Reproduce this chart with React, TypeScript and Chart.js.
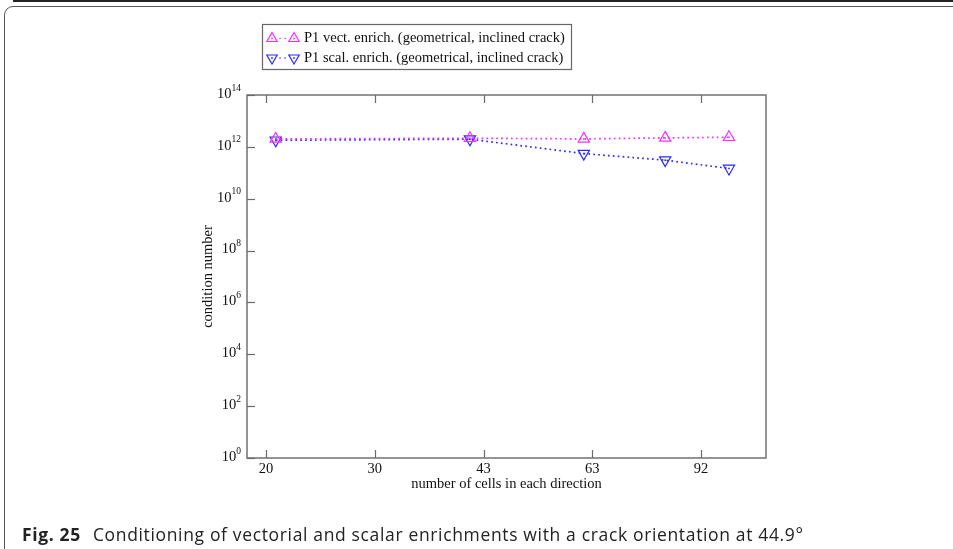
import React, { useEffect, useRef } from 'react';
import { Chart, registerables } from 'chart.js';

Chart.register(...registerables);

const cells = [20.7, 41, 61.2, 81.5, 102];
const vectEnrich = [2.03e12, 2.15e12, 2.03e12, 2.22e12, 2.35e12];
const scalEnrich = [1.8e12, 1.97e12, 5.5e11, 3.07e11, 1.47e11];
const xTickValues = [20, 29.33, 43.01, 63.07, 92.48];
const xTickLabels = ['20', '30', '43', '63', '92'];
const yTickExponents = [0, 2, 4, 6, 8, 10, 12, 14];
const seriesLabels = [
  'P1 vect. enrich. (geometrical, inclined crack)',
  'P1 scal. enrich. (geometrical, inclined crack)',
];
const seriesColors = ['#ff2cff', '#2b2bff'];
const xTitle = 'number of cells in each direction';
const yTitle = 'condition number';
const captionBold = 'Fig. 25';
const captionText = 'Conditioning of vectorial and scalar enrichments with a crack orientation at 44.9°';

const SERIF = '"Liberation Serif", "Times New Roman", serif';
const FS = 14.5;

function tri(ctx: CanvasRenderingContext2D, x: number, y: number, r: number, down: boolean) {
  const s = down ? -1 : 1;
  ctx.beginPath();
  ctx.moveTo(x, y - s * r);
  ctx.lineTo(x + r * Math.sin((2 * Math.PI) / 3), y - s * r * Math.cos((2 * Math.PI) / 3));
  ctx.lineTo(x - r * Math.sin((2 * Math.PI) / 3), y - s * r * Math.cos((2 * Math.PI) / 3));
  ctx.closePath();
  ctx.stroke();
}

const decorPlugin = {
  id: 'decor',
  afterDraw(chart: any) {
    const ctx: CanvasRenderingContext2D = chart.ctx;
    const { left, right, top, bottom } = chart.chartArea;
    const xs = chart.scales.x;
    const ys = chart.scales.y;
    ctx.save();
    // frame
    ctx.strokeStyle = '#7a7a7a';
    ctx.lineWidth = 1.6;
    ctx.strokeRect(left, top, right - left, bottom - top);
    // x ticks (bottom and top, inward)
    ctx.lineWidth = 1.2;
    ctx.strokeStyle = '#6a6a6a';
    xTickValues.forEach((v) => {
      const px = Math.round(xs.getPixelForValue(v)) + 0.5;
      ctx.beginPath();
      ctx.moveTo(px, bottom);
      ctx.lineTo(px, bottom - 8);
      ctx.moveTo(px, top);
      ctx.lineTo(px, top + 8);
      ctx.stroke();
    });
    // y ticks (left, inward)
    yTickExponents.forEach((e) => {
      const py = Math.round(ys.getPixelForValue(Math.pow(10, e))) + 0.5;
      ctx.beginPath();
      ctx.moveTo(left, py);
      ctx.lineTo(left + 8, py);
      ctx.stroke();
    });
    // tick labels
    ctx.fillStyle = '#111';
    ctx.font = `${FS}px ${SERIF}`;
    ctx.textAlign = 'center';
    ctx.textBaseline = 'middle';
    xTickValues.forEach((v, i) => {
      ctx.fillText(xTickLabels[i], xs.getPixelForValue(v), bottom + 11);
    });
    yTickExponents.forEach((e) => {
      const py = ys.getPixelForValue(Math.pow(10, e));
      ctx.font = `9.5px ${SERIF}`;
      const supW = ctx.measureText(String(e)).width;
      ctx.font = `${FS}px ${SERIF}`;
      const baseW = ctx.measureText('10').width;
      const xEnd = left - 6;
      ctx.textAlign = 'left';
      ctx.textBaseline = 'middle';
      ctx.fillText('10', xEnd - supW - baseW, py - 1);
      ctx.font = `9.5px ${SERIF}`;
      ctx.fillText(String(e), xEnd - supW, py - 7);
    });
    // axis titles
    ctx.font = `${FS}px ${SERIF}`;
    ctx.textAlign = 'center';
    ctx.textBaseline = 'middle';
    ctx.fillText(xTitle, (left + right) / 2, bottom + 26);
    ctx.save();
    ctx.translate(left - 39, (top + bottom) / 2);
    ctx.rotate(-Math.PI / 2);
    ctx.fillText(yTitle, 0, 0);
    ctx.restore();
    // center dots of markers
    chart.data.datasets.forEach((ds: any, i: number) => {
      const meta = chart.getDatasetMeta(i);
      ctx.fillStyle = seriesColors[i];
      meta.data.forEach((pt: any) => {
        ctx.beginPath();
        ctx.arc(pt.x, pt.y, 0.9, 0, Math.PI * 2);
        ctx.fill();
      });
    });
    // legend
    const lx = 262.5, ly = 24.5, lw = 309, lh = 45;
    ctx.fillStyle = '#fff';
    ctx.fillRect(lx, ly, lw, lh);
    ctx.strokeStyle = '#666';
    ctx.lineWidth = 1.2;
    ctx.strokeRect(lx, ly, lw, lh);
    seriesLabels.forEach((label, i) => {
      const cy = 38.5 + i * 19.5;
      const col = seriesColors[i];
      ctx.strokeStyle = col;
      ctx.fillStyle = col;
      ctx.lineWidth = 1.2;
      tri(ctx, 272, cy, 6, i === 1);
      tri(ctx, 294, cy, 6, i === 1);
      ctx.beginPath();
      ctx.arc(272, cy, 0.9, 0, Math.PI * 2);
      ctx.arc(294, cy, 0.9, 0, Math.PI * 2);
      ctx.fill();
      [280, 285].forEach((dx) => {
        ctx.beginPath();
        ctx.arc(dx, cy, 0.8, 0, Math.PI * 2);
        ctx.fill();
      });
      ctx.fillStyle = '#111';
      ctx.font = `${FS}px ${SERIF}`;
      ctx.textAlign = 'left';
      ctx.textBaseline = 'middle';
      ctx.fillText(label, 304, cy);
    });
    ctx.restore();
  },
};

export default function App() {
  const ref = useRef<HTMLCanvasElement | null>(null);
  useEffect(() => {
    if (!ref.current) return;
    const chart = new Chart(ref.current, {
      type: 'line',
      data: {
        datasets: [
          {
            label: seriesLabels[0],
            data: cells.map((c, i) => ({ x: c, y: vectEnrich[i] })),
            borderColor: seriesColors[0],
            backgroundColor: 'rgba(0,0,0,0)',
            borderWidth: 1.7,
            borderDash: [1.7, 3.2],
            pointStyle: 'triangle',
            pointRadius: 6.5,
            pointBorderWidth: 1.2,
            pointBorderColor: seriesColors[0],
            pointBackgroundColor: 'rgba(0,0,0,0)',
            tension: 0,
          },
          {
            label: seriesLabels[1],
            data: cells.map((c, i) => ({ x: c, y: scalEnrich[i] })),
            borderColor: seriesColors[1],
            backgroundColor: 'rgba(0,0,0,0)',
            borderWidth: 1.7,
            borderDash: [1.7, 3.2],
            pointStyle: 'triangle',
            pointRotation: 180,
            pointRadius: 6.5,
            pointBorderWidth: 1.2,
            pointBorderColor: seriesColors[1],
            pointBackgroundColor: 'rgba(0,0,0,0)',
            tension: 0,
          },
        ],
      },
      options: {
        responsive: false,
        animation: false,
        layout: { padding: { left: 247, top: 95, right: 187, bottom: 91 } },
        plugins: { legend: { display: false }, tooltip: { enabled: false }, title: { display: false } },
        scales: {
          x: { type: 'logarithmic', min: 18.71, max: 116.2, display: false },
          y: { type: 'logarithmic', min: 1, max: 1e14, display: false },
        },
      },
      plugins: [decorPlugin],
    });
    return () => chart.destroy();
  }, []);

  return (
    <div style={{ position: 'absolute', left: 0, top: 0, width: 953, height: 549, overflow: 'hidden', background: '#fff' }}>
      <div style={{ position: 'absolute', left: 13, top: 0, width: 960, height: 1.5, background: '#222' }} />
      <div
        style={{
          position: 'absolute',
          left: 4,
          top: 5.5,
          width: 980,
          height: 600,
          border: '1.5px solid #555',
          borderRadius: 9,
          boxSizing: 'border-box',
        }}
      />
      <canvas ref={ref} width={953} height={549} style={{ position: 'absolute', left: 0, top: 0 }} />
      <div
        style={{
          position: 'absolute',
          left: 22,
          top: 523,
          fontFamily: '"Open Sans", "Noto Sans", sans-serif',
          fontSize: 17.5,
          letterSpacing: 0.65,
          color: '#222',
          whiteSpace: 'nowrap',
          lineHeight: '22px',
        }}
      >
        <span style={{ fontWeight: 700 }}>{captionBold}</span>
        <span style={{ marginLeft: 12 }}>{captionText}</span>
      </div>
    </div>
  );
}
